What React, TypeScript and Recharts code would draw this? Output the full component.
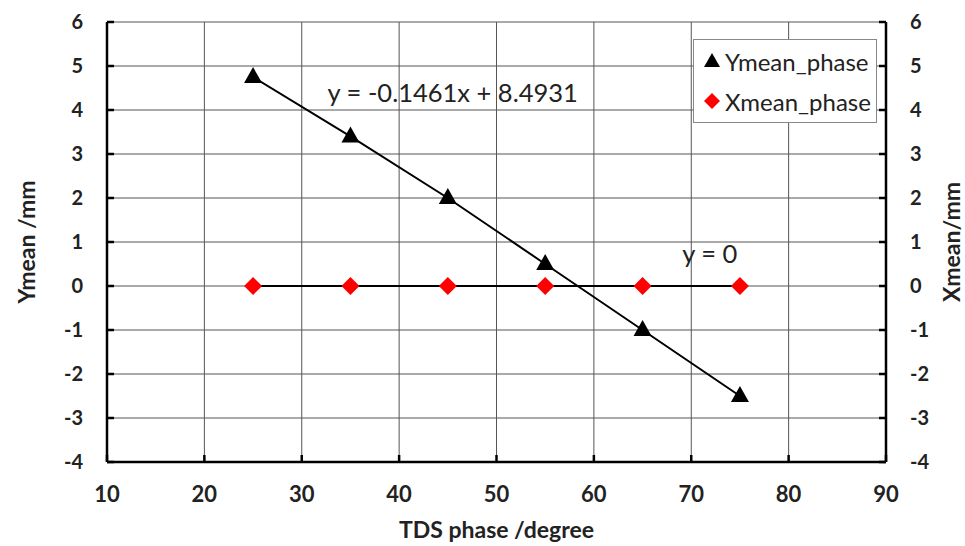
import { CartesianGrid, ComposedChart, Line, ReferenceDot, XAxis, YAxis } from "recharts";

const phases = [25, 35, 45, 55, 65, 75];
const ymean = [4.75, 3.4, 2.0, 0.5, -1.0, -2.5];
const xmean = [0, 0, 0, 0, 0, 0];
const xTicks = [10, 20, 30, 40, 50, 60, 70, 80, 90];
const yTicks = [-4, -3, -2, -1, 0, 1, 2, 3, 4, 5, 6];

const yData = phases.map((x, i) => ({ x, y: ymean[i] }));
const xData = phases.map((x, i) => ({ x, y: xmean[i] }));

const FONT = "Lato, 'Open Sans', sans-serif";

function Triangle({ cx, cy }: any) {
  if (cx == null || cy == null) return null;
  return <path d={`M${cx},${cy - 10} L${cx + 9},${cy + 6} L${cx - 9},${cy + 6} Z`} fill="#000" />;
}

function Diamond({ cx, cy }: any) {
  if (cx == null || cy == null) return null;
  return <path d={`M${cx},${cy - 9} L${cx + 9},${cy} L${cx},${cy + 9} L${cx - 9},${cy} Z`} fill="#ff0000" />;
}

// legend drawn as an overlay so it doesn't eat plot space
function LegendBox() {
  return (
    <div style={{ position: "absolute", left: 693, top: 39, border: "1px solid #888", background: "#fff", width: 184, height: 84, fontFamily: FONT, fontSize: 24, color: "#222", boxSizing: "border-box" }}>
      {[
        { name: "Ymean_phase", sym: <path d="M9,1 L17,15 L1,15 Z" fill="#000" /> },
        { name: "Xmean_phase", sym: <path d="M9,1 L17,9 L9,17 L1,9 Z" fill="#ff0000" /> },
      ].map((e, i) => (
        <div key={e.name} style={{ display: "flex", alignItems: "center", height: 30, marginTop: i === 0 ? 6 : 10, paddingLeft: 9 }}>
          <svg width={18} height={18} style={{ marginRight: 4 }}>{e.sym}</svg>
          <span>{e.name}</span>
        </div>
      ))}
    </div>
  );
}

const tickStyle = { fontSize: 20, fontWeight: 700, fill: "#222", fontFamily: FONT };
const titleStyle = { fontSize: 23, fontWeight: 700, fill: "#222", fontFamily: FONT };

export default function App() {
  return (
    <div style={{ position: "fixed", left: 0, top: 0, width: 965, height: 546, background: "#fff" }}>
      <ComposedChart width={965} height={546} margin={{ top: 22, right: 19, bottom: 24, left: 47 }}>
        <CartesianGrid yAxisId="left" stroke="#555" strokeWidth={1} />
        <XAxis
          dataKey="x" type="number" domain={[10, 90]} ticks={xTicks} interval={0}
          stroke="#000" strokeWidth={2.5} tickSize={-7} tickMargin={31} height={60}
          tick={{ ...tickStyle, fontSize: 22 }}
          label={{ value: "TDS phase /degree", position: "insideBottom", offset: -16, style: titleStyle }}
        />
        <YAxis
          yAxisId="left" type="number" domain={[-4, 6]} ticks={yTicks} interval={0}
          stroke="#000" strokeWidth={2.5} tickSize={-7} tickMargin={31} width={60}
          tick={tickStyle}
          label={{ value: "Ymean /mm", angle: -90, position: "insideLeft", offset: -20, style: { ...titleStyle, textAnchor: "middle" } }}
        />
        <YAxis
          yAxisId="right" orientation="right" type="number" domain={[-4, 6]} ticks={yTicks} interval={0}
          stroke="#000" strokeWidth={2.5} tickSize={-7} tickMargin={31} width={60}
          tick={tickStyle}
          label={{ value: "Xmean/mm", angle: -90, position: "insideRight", offset: -6, style: { ...titleStyle, textAnchor: "middle" } }}
        />
        <Line yAxisId="left" data={yData} dataKey="y" name="Ymean_phase" stroke="#000" strokeWidth={2} dot={<Triangle />} activeDot={false} isAnimationActive={false} />
        <Line yAxisId="right" data={xData} dataKey="y" name="Xmean_phase" stroke="#000" strokeWidth={2} dot={<Diamond />} activeDot={false} isAnimationActive={false} />
        <ReferenceDot yAxisId="left" x={45.5} y={4.39} r={0} stroke="none"
          label={{ value: "y = -0.1461x + 8.4931", position: "center", style: { fontSize: 25.5, fill: "#222", fontFamily: FONT } }} />
        <ReferenceDot yAxisId="left" x={71.9} y={0.72} r={0} stroke="none"
          label={{ value: "y = 0", position: "center", style: { fontSize: 25.5, fill: "#222", fontFamily: FONT } }} />
      </ComposedChart>
      <LegendBox />
    </div>
  );
}
